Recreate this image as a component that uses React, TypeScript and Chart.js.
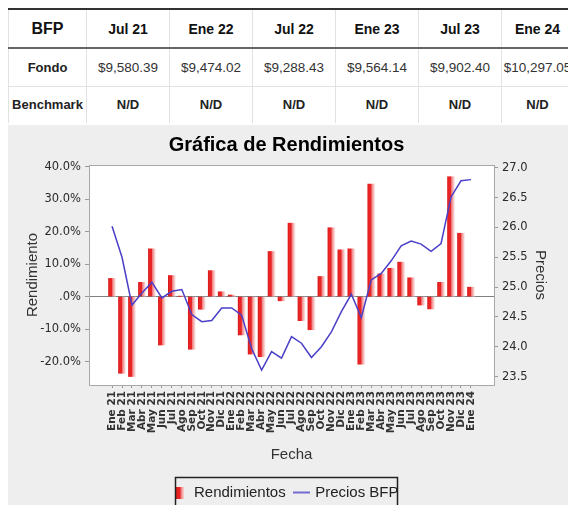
import React, { useEffect, useRef } from 'react';
import { Chart, registerables } from 'chart.js';

Chart.register(...registerables);

// ---------- data ----------
const categories = [
  'Ene 21', 'Feb 21', 'Mar 21', 'Abr 21', 'May 21', 'Jun 21', 'Jul 21', 'Ago 21', 'Sep 21', 'Oct 21', 'Nov 21', 'Dic 21',
  'Ene 22', 'Feb 22', 'Mar 22', 'Abr 22', 'May 22', 'Jun 22', 'Jul 22', 'Ago 22', 'Sep 22', 'Oct 22', 'Nov 22', 'Dic 22',
  'Ene 23', 'Feb 23', 'Mar 23', 'Abr 23', 'May 23', 'Jun 23', 'Jul 23', 'Ago 23', 'Sep 23', 'Oct 23', 'Nov 23', 'Dic 23',
  'Ene 24',
];

const rendimientos = [
  5.6, -23.6, -24.6, 4.4, 14.7, -14.9, 6.5, 0.1, -16.2, -3.9, 8.0, 1.5,
  0.5, -11.8, -17.7, -18.5, 13.9, -1.3, 22.6, -7.4, -10.2, 6.2, 21.2, 14.4,
  14.7, -20.8, 34.6, 7.0, 8.7, 10.6, 5.8, -2.6, -3.8, 4.4, 36.9, 19.5,
  2.9,
];

const precios = [
  26.02, 25.5, 24.7, 24.9, 25.08, 24.82, 24.93, 24.96, 24.54, 24.42, 24.44, 24.65,
  24.65, 24.53, 23.97, 23.61, 23.92, 23.81, 24.17, 24.06, 23.82, 24.0, 24.25, 24.59,
  24.88, 24.49, 25.12, 25.23, 25.44, 25.69, 25.77, 25.72, 25.6, 25.73, 26.51, 26.78,
  26.8,
];

const leftTicks = [-20, -10, 0, 10, 20, 30, 40];
const rightTicks = [23.5, 24.0, 24.5, 25.0, 25.5, 26.0, 26.5, 27.0];

const tableHeaders = ['Jul 21', 'Ene 22', 'Jul 22', 'Ene 23', 'Jul 23', 'Ene 24'];
const fondoValues = ['$9,580.39', '$9,474.02', '$9,288.43', '$9,564.14', '$9,902.40', '$10,297.05'];
const benchmarkValues = ['N/D', 'N/D', 'N/D', 'N/D', 'N/D', 'N/D'];

const CHART_TITLE = 'Gráfica de Rendimientos';
const SERIES_BAR = 'Rendimientos';
const SERIES_LINE = 'Precios BFP';

// ---------- styles ----------
const SANS = '"Liberation Sans", Arial, sans-serif';
const TICK_FONT = '"DejaVu Sans", sans-serif';
const LINE_COLOR = '#4a3fc6';
const BAR_RED = '#e62222';
const BAR_W = 7;
const X_MARGIN = 2.31;

function makeBarGradient(ctx: CanvasRenderingContext2D, x0: number, x1: number) {
  const g = ctx.createLinearGradient(x0, 0, x1, 0);
  g.addColorStop(0, '#d81a1a');
  g.addColorStop(0.2, '#ec2626');
  g.addColorStop(0.45, '#e82222');
  g.addColorStop(0.58, '#f08080');
  g.addColorStop(1, '#fce6e6');
  return g;
}

export default function App() {
  const ref = useRef<HTMLCanvasElement>(null);

  useEffect(() => {
    document.documentElement.style.overflow = 'hidden';
    document.body.style.overflow = 'hidden';
    const canvas = ref.current;
    if (!canvas) return;

    const rectImg = document.createElement('canvas');
    rectImg.width = 8;
    rectImg.height = 12;
    {
      const c = rectImg.getContext('2d')!;
      c.fillStyle = makeBarGradient(c, 0, 8);
      c.fillRect(0, 0, 8, 12);
    }
    const lineImg = document.createElement('canvas');
    lineImg.width = 17;
    lineImg.height = 4;
    {
      const c = lineImg.getContext('2d')!;
      c.strokeStyle = LINE_COLOR;
      c.lineWidth = 1.5;
      c.beginPath();
      c.moveTo(0, 2);
      c.lineTo(17, 2);
      c.stroke();
    }

    const barFill = (c: any) => {
      const chart = c.chart;
      const xs = chart.scales && chart.scales.x;
      if (c.type !== 'data' || !xs || !chart.chartArea) return BAR_RED;
      const cx = xs.getPixelForValue(c.dataIndex);
      return makeBarGradient(chart.ctx, cx - BAR_W / 2, cx + BAR_W / 2);
    };

    const framePlugin = {
      id: 'framePlugin',
      beforeDraw(chart: any) {
        const { ctx, width, height, chartArea: a } = chart;
        ctx.save();
        ctx.fillStyle = '#eeeeee';
        ctx.fillRect(0, 0, width, height);
        ctx.fillStyle = '#ffffff';
        ctx.fillRect(a.left, a.top, a.right - a.left, a.bottom - a.top);
        ctx.restore();
      },
      afterDraw(chart: any) {
        const { ctx, chartArea: a } = chart;
        ctx.save();
        ctx.strokeStyle = '#a8a8a8';
        ctx.lineWidth = 1;
        ctx.strokeRect(Math.round(a.left) + 0.5, Math.round(a.top) + 0.5, Math.round(a.right - a.left), Math.round(a.bottom - a.top));
        const lg = chart.legend;
        if (lg && lg.legendHitBoxes && lg.legendHitBoxes.length) {
          const hb = lg.legendHitBoxes;
          const l = Math.min(...hb.map((h: any) => h.left));
          const r = Math.max(...hb.map((h: any) => h.left + h.width));
          const t = Math.min(...hb.map((h: any) => h.top));
          const b = Math.max(...hb.map((h: any) => h.top + h.height));
          ctx.strokeStyle = '#222222';
          ctx.lineWidth = 1.5;
          ctx.strokeRect(Math.round(l) + 1.5, Math.round(t - 8) + 0.5, Math.round(r - l) - 2, Math.round(b - t + 16));
        }
        ctx.restore();
      },
    };

    const chart = new Chart(canvas, {
      type: 'bar',
      data: {
        datasets: [
          {
            type: 'bar',
            label: SERIES_BAR,
            data: rendimientos.map((y, i) => ({ x: i, y })),
            yAxisID: 'y',
            xAxisID: 'x',
            backgroundColor: barFill as any,
            borderWidth: 0,
            barThickness: BAR_W,
            order: 2,
          } as any,
          {
            type: 'line',
            label: SERIES_LINE,
            data: precios.map((y, i) => ({ x: i, y })),
            yAxisID: 'y1',
            xAxisID: 'x',
            borderColor: LINE_COLOR,
            backgroundColor: LINE_COLOR,
            borderWidth: 1.5,
            pointRadius: 0,
            tension: 0,
            order: 1,
          } as any,
        ],
      },
      options: {
        responsive: false,
        animation: false,
        layout: { padding: { left: 12, right: 15, top: 0, bottom: 10 } },
        plugins: {
          tooltip: { enabled: false },
          title: {
            display: true,
            text: CHART_TITLE,
            color: '#000',
            font: { family: SANS, size: 20, weight: 'bold' },
            padding: { top: 8, bottom: 8 },
          },
          legend: {
            display: true,
            position: 'bottom',
            labels: {
              usePointStyle: true,
              pointStyleWidth: 12,
              padding: 10,
              color: '#222',
              font: { family: SANS, size: 15 },
              generateLabels: () => [
                { text: SERIES_BAR, pointStyle: rectImg, fillStyle: BAR_RED, strokeStyle: BAR_RED, lineWidth: 0, hidden: false, datasetIndex: 0, fontColor: '#222' } as any,
                { text: SERIES_LINE, pointStyle: lineImg, fillStyle: LINE_COLOR, strokeStyle: LINE_COLOR, lineWidth: 0, hidden: false, datasetIndex: 1, fontColor: '#222' } as any,
              ],
            },
          },
        },
        scales: {
          x: {
            type: 'linear',
            offset: false,
            min: -X_MARGIN,
            max: categories.length - 1 + X_MARGIN,
            afterBuildTicks: (s: any) => {
              s.ticks = categories.map((_, i) => ({ value: i }));
            },
            afterFit: (s: any) => {
              s.height = 90;
            },
            grid: { display: true, drawOnChartArea: false, drawTicks: true, tickLength: 3, color: '#999', offset: false },
            border: { display: false },
            ticks: {
              autoSkip: false,
              maxRotation: 90,
              minRotation: 90,
              padding: 3,
              color: '#333',
              font: { family: TICK_FONT, size: 10.5, weight: 'bold' },
              callback: (v: any) => categories[v] ?? '',
            },
            title: {
              display: true,
              text: 'Fecha',
              color: '#333',
              font: { family: SANS, size: 15 },
              padding: { top: 0, bottom: 11 },
            },
          } as any,
          y: {
            type: 'linear',
            position: 'left',
            min: -27.2,
            max: 40.5,
            afterBuildTicks: (s: any) => {
              s.ticks = leftTicks.map((v) => ({ value: v }));
            },
            afterFit: (s: any) => {
              s.width = 69;
            },
            grid: {
              color: (c: any) => (c.tick && c.tick.value === 0 ? '#808080' : 'rgba(0,0,0,0)'),
              tickColor: '#999',
              tickLength: 4,
              drawTicks: true,
            },
            border: { display: false },
            ticks: {
              padding: 4,
              color: '#2a2a2a',
              font: { family: TICK_FONT, size: 11.5 },
              callback: (v: any) => (v === 0 ? '.0%' : Number(v).toFixed(1) + '%'),
            },
            title: {
              display: true,
              text: 'Rendimiento',
              color: '#333',
              font: { family: SANS, size: 15 },
              padding: { top: 4, bottom: 2 },
            },
          } as any,
          y1: {
            type: 'linear',
            position: 'right',
            min: 23.36,
            max: 27.045,
            afterBuildTicks: (s: any) => {
              s.ticks = rightTicks.map((v) => ({ value: v }));
            },
            afterFit: (s: any) => {
              s.width = 59;
            },
            grid: { drawOnChartArea: false, drawTicks: true, tickLength: 4, color: '#999', tickColor: '#999' },
            border: { display: false },
            ticks: {
              padding: 4,
              color: '#2a2a2a',
              font: { family: TICK_FONT, size: 11.5 },
              callback: (v: any) => Number(v).toFixed(1),
            },
            title: {
              display: true,
              text: 'Precios',
              color: '#333',
              font: { family: SANS, size: 15 },
              padding: { top: 4, bottom: 2 },
            },
          } as any,
        },
      },
      plugins: [framePlugin],
    });

    return () => chart.destroy();
  }, []);

  const cellBase: React.CSSProperties = {
    borderLeft: '1px solid #e2e2e2',
    borderRight: '1px solid #e2e2e2',
    textAlign: 'center',
    verticalAlign: 'middle',
    padding: 0,
    whiteSpace: 'nowrap',
    overflow: 'hidden',
  };

  const colWidths = tableHeaders.map((_, i) => (i === tableHeaders.length - 1 ? 72 : 83));

  return (
    <div style={{ position: 'fixed', left: 8, top: 8, width: 560, height: 497, overflow: 'hidden', background: '#fff' }}>
      <table
        style={{
          position: 'absolute',
          left: 0,
          top: 0,
          width: 78 + colWidths.reduce((a, b) => a + b, 0),
          borderCollapse: 'collapse',
          tableLayout: 'fixed',
          fontFamily: SANS,
          color: '#222',
          background: '#fff',
        }}
      >
        <colgroup>
          <col style={{ width: 78 }} />
          {tableHeaders.map((h, i) => (
            <col key={h} style={{ width: colWidths[i] }} />
          ))}
        </colgroup>
        <tbody>
          <tr style={{ height: 39 }}>
            <td style={{ ...cellBase, borderTop: '2px solid #333', borderBottom: '2px solid #666', fontWeight: 'bold', fontSize: 16, color: '#111' }}>BFP</td>
            {tableHeaders.map((h) => (
              <td key={h} style={{ ...cellBase, borderTop: '2px solid #333', borderBottom: '2px solid #666', fontWeight: 'bold', fontSize: 14, color: '#111' }}>
                {h}
              </td>
            ))}
          </tr>
          <tr style={{ height: 38 }}>
            <td style={{ ...cellBase, borderBottom: '1px solid #e2e2e2', fontWeight: 'bold', fontSize: 13 }}>Fondo</td>
            {fondoValues.map((v, i) => (
              <td key={i} style={{ ...cellBase, borderBottom: '1px solid #e2e2e2', fontSize: 13.5, color: '#333', overflow: 'visible' }}>
                {v}
              </td>
            ))}
          </tr>
          <tr style={{ height: 37 }}>
            <td style={{ ...cellBase, fontWeight: 'bold', fontSize: 13 }}>Benchmark</td>
            {benchmarkValues.map((v, i) => (
              <td key={i} style={{ ...cellBase, fontWeight: 'bold', fontSize: 13 }}>
                {v}
              </td>
            ))}
          </tr>
        </tbody>
      </table>
      <canvas ref={ref} width={560} height={395} style={{ position: 'absolute', left: 0, top: 117, display: 'block' }} />
    </div>
  );
}
